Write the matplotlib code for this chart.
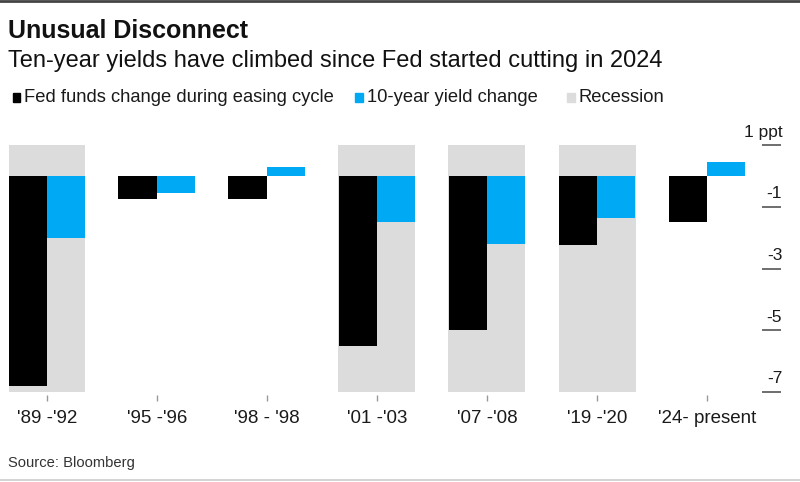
import matplotlib
matplotlib.use("Agg")
import matplotlib.pyplot as plt
import matplotlib.transforms as mtransforms
from matplotlib.lines import Line2D
from matplotlib.patches import Rectangle
import numpy as np

# Data (percentage points)
periods = ["'89 -'92", "'95 -'96", "'98 - '98", "'01 -'03", "'07 -'08", "'19 -'20", "'24- present"]
fed_funds_change = [-6.8, -0.75, -0.75, -5.5, -5.0, -2.25, -1.5]
ten_year_change = [-2.0, -0.55, 0.3, -1.5, -2.2, -1.35, 0.45]
recession = [True, False, False, True, True, True, False]
y_ticks = [1, -1, -3, -5, -7]
y_ticklabels = ["1 ppt", "-1", "-3", "-5", "-7"]
legend_labels = ["Fed funds change during easing cycle", "10-year yield change", "Recession"]

BLACK = "#000000"
BLUE = "#00A9F4"
GRAY = "#DCDCDC"
TEXT = "#1A1A1A"
FONT = "Liberation Sans"

plt.rcParams["font.family"] = [FONT, "DejaVu Sans"]

W, H = 800, 482
fig = plt.figure(figsize=(W / 100, H / 100), dpi=100)
ax = fig.add_axes([0.0065, 0.1803, 0.946, 0.5315])

x = np.arange(len(periods))
w = 0.35

# recession shading spans the full plotted range
rec_x = x[np.array(recession)]
ax.bar(rec_x, [8] * len(rec_x), bottom=-7, width=2 * w, color=GRAY, zorder=0)

ax.bar(x - w / 2, fed_funds_change, width=w, color=BLACK, zorder=2)
ax.bar(x + w / 2, ten_year_change, width=w, color=BLUE, zorder=2)

ax.set_xlim(-0.38, 6.5)
ax.set_ylim(-7.1, 1.2)
for s in ax.spines.values():
    s.set_visible(False)

ax.set_xticks(x)
ax.set_xticklabels(periods, fontsize=13.5, color=TEXT)
ax.tick_params(axis="x", length=4, width=1, color="#999999", pad=7)

ax.yaxis.tick_right()
ax.set_yticks(y_ticks)
ax.set_yticklabels([])
ax.tick_params(axis="y", length=14, width=1.2, color="#555555", pad=0)

# tick labels sit above the tick marks, right aligned with their end
trans = mtransforms.blended_transform_factory(ax.transAxes, ax.transData)
for v, lab in zip(y_ticks, y_ticklabels):
    ax.annotate(lab, xy=(1.0, v), xycoords=trans, xytext=(14.5, 4),
                textcoords="offset points", ha="right", va="bottom",
                fontsize=12.5, color=TEXT)

# headers
fig.text(8 / W, 1 - 38 / H, "Unusual Disconnect", fontsize=18,
         fontweight="bold", color="#111111", va="baseline")
fig.text(8 / W, 1 - 67.5 / H, "Ten-year yields have climbed since Fed started cutting in 2024",
         fontsize=17, color="#111111", va="baseline")

# legend: small squares followed by labels
leg_colors = [BLACK, BLUE, GRAY]
leg_sq_x = [12.5, 355, 567]
leg_txt_x = [23.5, 367, 578]
for sx, tx, col, lab in zip(leg_sq_x, leg_txt_x, leg_colors, legend_labels):
    fig.add_artist(Rectangle((sx / W, 1 - 101.5 / H), 7.5 / W, 8.5 / H,
                             transform=fig.transFigure, color=col))
    fig.text(tx / W, 1 - 97 / H, lab, fontsize=13.2, color=TEXT, va="center")

fig.text(8 / W, 1 - 463 / H, "Source: Bloomberg", fontsize=10.6, color="#333333", va="center")

# screenshot frame lines
fig.add_artist(Line2D([0, 1], [0.998, 0.998], transform=fig.transFigure, color="#444444", lw=2))
fig.add_artist(Line2D([0, 1], [1 - 480 / H, 1 - 480 / H], transform=fig.transFigure,
                      color="#CCCCCC", lw=1.2))

fig.savefig("out.png", dpi=100)
